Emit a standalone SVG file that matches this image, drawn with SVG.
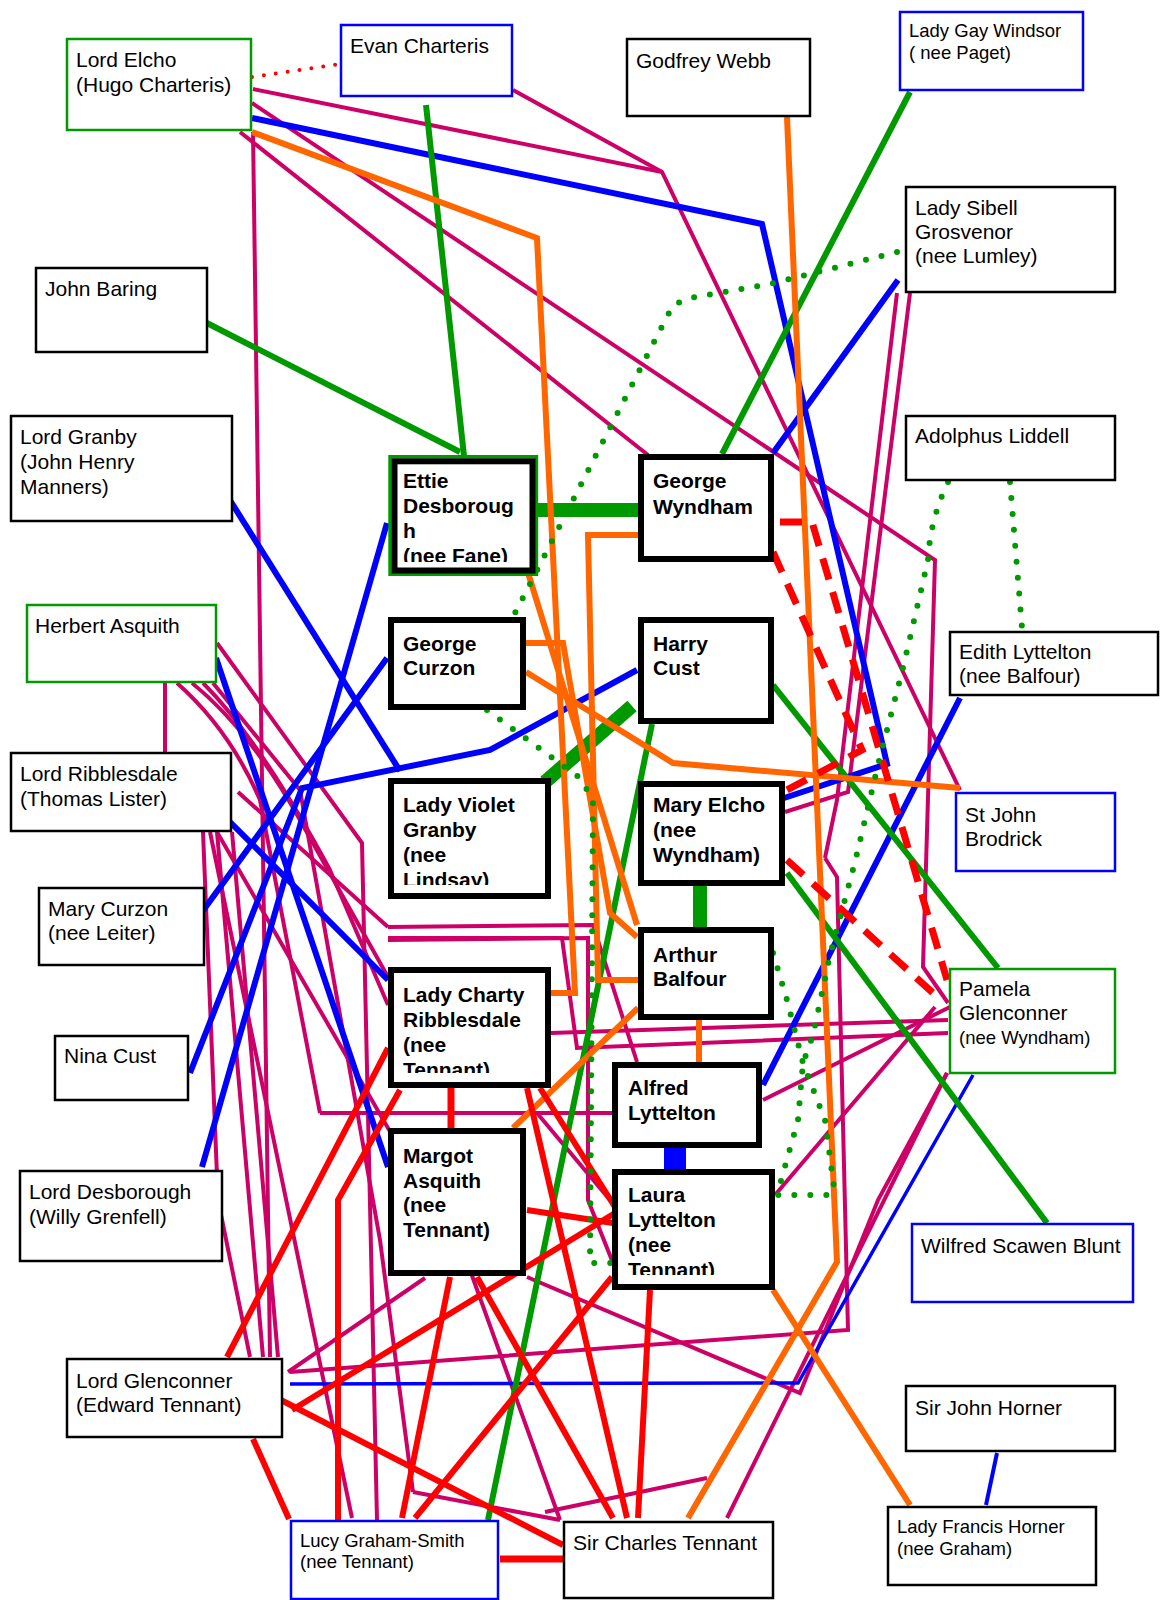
<svg xmlns="http://www.w3.org/2000/svg" width="1161" height="1600" viewBox="0 0 1161 1600">
<style>
.bx{fill:#fff;stroke:#000;stroke-width:2.5}
.bb{fill:#fff;stroke:#0000ff;stroke-width:2.5}
.bg{fill:#fff;stroke:#009900;stroke-width:2.5}
.tk{fill:#fff;stroke:#000;stroke-width:6}
.t{font-family:"Liberation Sans",Arial,sans-serif;font-size:21px;fill:#000}
.s{font-family:"Liberation Sans",Arial,sans-serif;font-size:18.5px;fill:#000}
.b{font-family:"Liberation Sans",Arial,sans-serif;font-size:21px;font-weight:bold;fill:#000}
.c path{fill:none;stroke-linejoin:miter}
.m{stroke:#cc0066;stroke-width:4}
.bl{stroke:#0000ff;stroke-width:6}
.gr{stroke:#009900;stroke-width:6}
.or{stroke:#ff6600;stroke-width:6}
.rd{stroke:#ff0000;stroke-width:6}
.gd{stroke:#009900;stroke-width:6;stroke-dasharray:0 16;stroke-linecap:round}
.rdot{stroke:#ff0000;stroke-width:4;stroke-dasharray:0 12;stroke-linecap:round}
.rdash{stroke:#ff0000;stroke-width:7;stroke-dasharray:22 13}
</style>
<defs>
<clipPath id="cEttie"><rect x="397" y="464" width="133" height="98"/></clipPath>
<clipPath id="cViolet"><rect x="394" y="784" width="151" height="101"/></clipPath>
<clipPath id="cCharty"><rect x="394" y="973" width="151" height="100"/></clipPath>
<clipPath id="cLaura"><rect x="618" y="1175" width="151" height="100"/></clipPath>
</defs>

<g id="connectors" class="c">
<!-- magenta -->
<path class="m" d="M253 89 L662 172"/>
<path class="m" d="M513 90 L662 172 L960 790"/>
<path class="m" d="M252 103 L935 560 L923 967 L948 1003"/>
<path class="m" d="M240 132 L648 455"/>
<path class="m" d="M253 132 L270 1357"/>
<path class="m" d="M165 683 L165 752"/>
<path class="m" d="M897 293 L837 800 L825 858"/>
<path class="m" d="M910 293 L848 792 L785 812"/>
<path class="m" d="M551 1033 L948 1020"/>
<path class="m" d="M388 927 L593 925 L637 1062"/>
<path class="m" d="M388 938 L562 938 L577 1048 L948 1033"/>
<path class="m" d="M388 940 L588 938 L588 1200 L613 1263"/>
<path class="m" d="M763 1100 L950 1007"/>
<path class="m" d="M775 1195 L935 1007"/>
<path class="m" d="M947 1073 L727 1518"/>
<path class="m" d="M290 1372 L848 1330 L837 877 L825 858"/>
<path class="m" d="M288 1372 L425 1278"/>
<path class="m" d="M527 1277 L800 1393 L878 1200 L947 1073"/>
<path class="m" d="M217 643 L362 843 L377 1520"/>
<path class="m" d="M320 1113 L612 1113"/>
<path class="m" d="M537 1113 L610 1200"/>
<path class="m" d="M413 1492 L560 1520"/>
<path class="m" d="M545 1512 L707 1478"/>
<path class="m" d="M177 683 Q230 730 260 800 L320 1113"/>
<path class="m" d="M192 683 Q250 730 300 820 L388 977"/>
<path class="m" d="M203 683 Q260 740 330 870 L388 1005"/>
<path class="m" d="M213 683 L300 790 L380 1240 L413 1492"/>
<path class="m" d="M203 832 L218 1200 L250 1357"/>
<path class="m" d="M217 832 L263 1357"/>
<path class="m" d="M210 832 L352 1518"/>
<path class="m" d="M238 792 L388 927"/>
<path class="m" d="M232 832 L278 1357"/>
<path class="m" d="M217 832 L470 1270 L560 1520"/>
<!-- blue -->
<path class="bl" d="M252 118 L762 224 L887 764 L778 800"/>
<path class="bl" d="M898 280 L773 453"/>
<path class="bl" d="M228 497 L400 771"/>
<path class="bl" d="M387 523 L202 1167"/>
<path class="bl" d="M637 670 L490 750 L302 788 L190 1073"/>
<path class="bl" d="M387 658 L202 912"/>
<path class="bl" d="M216 658 L388 1167"/>
<path class="bl" d="M228 820 L388 980"/>
<path class="bl" d="M763 1085 L960 698"/>
<path class="bl" d="M675 1148 L675 1169" style="stroke-width:22"/>
<path class="bl" d="M290 1384 L798 1383 L973 1075" style="stroke-width:3.5"/>
<path class="bl" d="M997 1453 L986 1505" style="stroke-width:4"/>
<!-- green -->
<path class="gr" d="M426 105 L464 456"/>
<path class="gr" d="M203 321 L460 452"/>
<path class="gr" d="M910 92 L722 454"/>
<path class="gr" d="M773 685 L998 968"/>
<path class="gr" d="M787 873 L1047 1223"/>
<path class="gr" d="M652 724 L488 1520"/>
<path class="gr" d="M538 510 L638 510" style="stroke-width:14"/>
<path class="gr" d="M545 782 L632 706" style="stroke-width:14"/>
<path class="gr" d="M700 886 L700 927" style="stroke-width:14"/>
<!-- orange -->
<path class="or" d="M252 132 L537 238 L575 993 L551 993"/>
<path class="or" d="M787 117 L837 1262 L688 1518"/>
<path class="or" d="M638 535 L588 535 L598 980 L638 980"/>
<path class="or" d="M525 563 L637 925"/>
<path class="or" d="M526 643 L563 643 L610 913 L637 937"/>
<path class="or" d="M526 672 L673 763 L960 788"/>
<path class="or" d="M638 1008 L513 1128"/>
<path class="or" d="M699 1020 L699 1062"/>
<path class="or" d="M773 1290 L910 1505"/>
<!-- red -->
<path class="rd" d="M451 1088 L451 1128" style="stroke-width:7"/>
<path class="rd" d="M500 1559 L563 1559" style="stroke-width:7"/>
<path class="rd" d="M388 1048 L227 1357"/>
<path class="rd" d="M400 1090 L338 1200 L338 1520"/>
<path class="rd" d="M253 1439 L289 1519"/>
<path class="rd" d="M277 1398 L563 1545"/>
<path class="rd" d="M292 1410 L620 1210"/>
<path class="rd" d="M450 1277 L402 1518"/>
<path class="rd" d="M477 1277 L613 1518"/>
<path class="rd" d="M612 1277 L415 1518"/>
<path class="rd" d="M650 1290 L638 1518"/>
<path class="rd" d="M527 1088 L627 1518"/>
<path class="rd" d="M540 1088 L615 1207"/>
<path class="rd" d="M527 1210 L613 1223"/>
<path class="rdot" d="M252 77 L340 64"/>
<path class="rdash" d="M780 522 L812 522 L947 980"/>
<path class="rdash" d="M773 552 L862 750 L787 790"/>
<path class="rdash" d="M787 860 L933 993"/>
<!-- green dotted -->
<path class="gd" d="M897 252 L770 284 L690 298 L673 305 L513 617"/>
<path class="gd" d="M487 710 L580 778 L593 800 L590 1263 L612 1263"/>
<path class="gd" d="M948 482 Q930 520 928 560 L913 625 L902 672 L878 765 L855 862 L830 955 L813 1035 L803 1063 L798 1120 L777 1195 L835 1195"/>
<path class="gd" d="M773 953 L787 1000 L803 1063 L825 1120 L835 1195"/>
<path class="gd" d="M1010 482 L1022 628"/>
</g>

<g id="lord-elcho"><rect class="bg" x="67" y="39" width="184" height="91"/><text class="t" x="76" y="67">Lord Elcho</text><text class="t" x="76" y="92">(Hugo Charteris)</text></g>
<g id="evan-charteris"><rect class="bb" x="341" y="25" width="171" height="71"/><text class="t" x="350" y="53">Evan Charteris</text></g>
<g id="godfrey-webb"><rect class="bx" x="627" y="39" width="183" height="77"/><text class="t" x="636" y="68">Godfrey Webb</text></g>
<g id="lady-gay-windsor"><rect class="bb" x="900" y="12" width="183" height="78"/><text class="s" x="909" y="37">Lady Gay Windsor</text><text class="s" x="909" y="59">( nee Paget)</text></g>
<g id="lady-sibell"><rect class="bx" x="906" y="187" width="209" height="105"/><text class="t" x="915" y="215">Lady Sibell</text><text class="t" x="915" y="239">Grosvenor</text><text class="t" x="915" y="263">(nee Lumley)</text></g>
<g id="john-baring"><rect class="bx" x="36" y="268" width="171" height="84"/><text class="t" x="45" y="296">John Baring</text></g>
<g id="lord-granby"><rect class="bx" x="11" y="416" width="221" height="105"/><text class="t" x="20" y="444">Lord Granby</text><text class="t" x="20" y="469">(John Henry</text><text class="t" x="20" y="494">Manners)</text></g>
<g id="herbert-asquith"><rect class="bg" x="27" y="605" width="189" height="77"/><text class="t" x="35" y="633">Herbert Asquith</text></g>
<g id="lord-ribblesdale"><rect class="bx" x="11" y="753" width="220" height="78"/><text class="t" x="20" y="781">Lord Ribblesdale</text><text class="t" x="20" y="806">(Thomas Lister)</text></g>
<g id="mary-curzon"><rect class="bx" x="39" y="888" width="165" height="77"/><text class="t" x="48" y="916">Mary Curzon</text><text class="t" x="48" y="940">(nee Leiter)</text></g>
<g id="nina-cust"><rect class="bx" x="55" y="1036" width="133" height="64"/><text class="t" x="64" y="1063">Nina Cust</text></g>
<g id="lord-desborough"><rect class="bx" x="20" y="1171" width="202" height="90"/><text class="t" x="29" y="1199">Lord Desborough</text><text class="t" x="29" y="1224">(Willy Grenfell)</text></g>
<g id="lord-glenconner"><rect class="bx" x="67" y="1359" width="215" height="78"/><text class="t" x="76" y="1388">Lord Glenconner</text><text class="t" x="76" y="1412">(Edward Tennant)</text></g>
<g id="lucy-graham-smith"><rect class="bb" x="291" y="1521" width="207" height="78"/><text class="s" x="300" y="1547">Lucy Graham-Smith</text><text class="s" x="300" y="1568">(nee Tennant)</text></g>
<g id="sir-charles-tennant"><rect class="bx" x="564" y="1522" width="209" height="76"/><text class="t" x="573" y="1550">Sir Charles Tennant</text></g>
<g id="lady-francis-horner"><rect class="bx" x="888" y="1507" width="208" height="78"/><text class="s" x="897" y="1533">Lady Francis Horner</text><text class="s" x="897" y="1555">(nee Graham)</text></g>
<g id="sir-john-horner"><rect class="bx" x="906" y="1386" width="209" height="65"/><text class="t" x="915" y="1415">Sir John Horner</text></g>
<g id="wilfred-scawen-blunt"><rect class="bb" x="912" y="1224" width="221" height="78"/><text class="t" x="921" y="1253">Wilfred Scawen Blunt</text></g>
<g id="pamela-glenconner"><rect class="bg" x="950" y="969" width="165" height="104"/><text class="t" x="959" y="996">Pamela</text><text class="t" x="959" y="1020">Glenconner</text><text class="s" x="959" y="1044">(nee Wyndham)</text></g>
<g id="st-john-brodrick"><rect class="bb" x="956" y="793" width="159" height="78"/><text class="t" x="965" y="822">St John</text><text class="t" x="965" y="846">Brodrick</text></g>
<g id="edith-lyttelton"><rect class="bx" x="950" y="632" width="208" height="63"/><text class="t" x="959" y="659">Edith Lyttelton</text><text class="t" x="959" y="683">(nee Balfour)</text></g>
<g id="adolphus-liddell"><rect class="bx" x="906" y="416" width="209" height="64"/><text class="t" x="915" y="443">Adolphus Liddell</text></g>

<g id="ettie-desborough"><rect x="390" y="456.7" width="146.5" height="117.6" fill="#fff" stroke="#009900" stroke-width="3.4"/><rect class="tk" x="394.5" y="461.3" width="138" height="109.2"/><g clip-path="url(#cEttie)"><text class="b" x="403" y="488">Ettie</text><text class="b" x="403" y="513">Desboroug</text><text class="b" x="403" y="538">h</text><text class="b" x="403" y="563">(nee Fane)</text></g></g>
<g id="george-wyndham"><rect class="tk" x="641" y="457" width="130" height="102"/><text class="b" x="653" y="488">George</text><text class="b" x="653" y="514">Wyndham</text></g>
<g id="george-curzon"><rect class="tk" x="391" y="620" width="132" height="87"/><text class="b" x="403" y="651">George</text><text class="b" x="403" y="675">Curzon</text></g>
<g id="harry-cust"><rect class="tk" x="641" y="620" width="130" height="101"/><text class="b" x="653" y="651">Harry</text><text class="b" x="653" y="675">Cust</text></g>
<g id="lady-violet-granby"><rect class="tk" x="391" y="781" width="157" height="115"/><g clip-path="url(#cViolet)"><text class="b" x="403" y="812">Lady Violet</text><text class="b" x="403" y="837">Granby</text><text class="b" x="403" y="862">(nee</text><text class="b" x="403" y="887">Lindsay)</text></g></g>
<g id="mary-elcho"><rect class="tk" x="641" y="784" width="141" height="99"/><text class="b" x="653" y="812">Mary Elcho</text><text class="b" x="653" y="837">(nee</text><text class="b" x="653" y="862">Wyndham)</text></g>
<g id="arthur-balfour"><rect class="tk" x="641" y="930" width="130" height="87"/><text class="b" x="653" y="962">Arthur</text><text class="b" x="653" y="986">Balfour</text></g>
<g id="lady-charty-ribblesdale"><rect class="tk" x="391" y="970" width="157" height="115"/><g clip-path="url(#cCharty)"><text class="b" x="403" y="1002">Lady Charty</text><text class="b" x="403" y="1027">Ribblesdale</text><text class="b" x="403" y="1052">(nee</text><text class="b" x="403" y="1077">Tennant)</text></g></g>
<g id="alfred-lyttelton"><rect class="tk" x="615" y="1065" width="144" height="80"/><text class="b" x="628" y="1095">Alfred</text><text class="b" x="628" y="1120">Lyttelton</text></g>
<g id="margot-asquith"><rect class="tk" x="391" y="1131" width="132" height="142"/><text class="b" x="403" y="1163">Margot</text><text class="b" x="403" y="1188">Asquith</text><text class="b" x="403" y="1212">(nee</text><text class="b" x="403" y="1237">Tennant)</text></g>
<g id="laura-lyttelton"><rect class="tk" x="615" y="1172" width="157" height="115"/><g clip-path="url(#cLaura)"><text class="b" x="628" y="1202">Laura</text><text class="b" x="628" y="1227">Lyttelton</text><text class="b" x="628" y="1252">(nee</text><text class="b" x="628" y="1277">Tennant)</text></g></g>
</svg>
